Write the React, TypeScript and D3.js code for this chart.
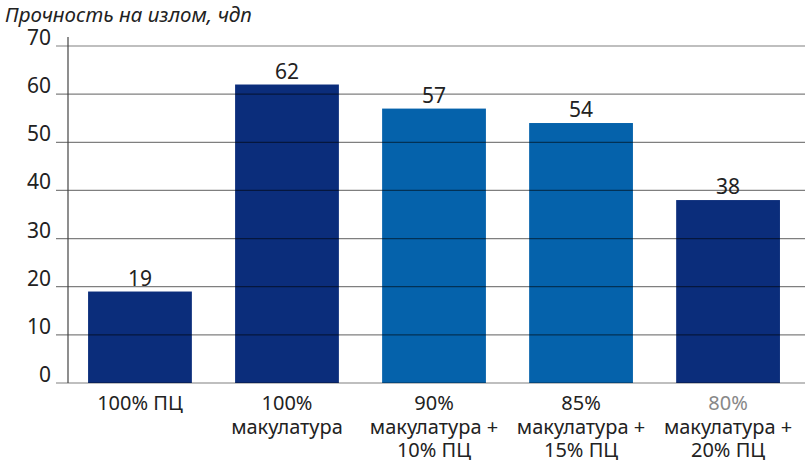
import * as d3 from "d3";

const categories = [
  ["100% ПЦ"],
  ["100%", "макулатура"],
  ["90%", "макулатура +", "10% ПЦ"],
  ["85%", "макулатура +", "15% ПЦ"],
  ["80%", "макулатура +", "20% ПЦ"],
];
const values = [19, 62, 57, 54, 38];
const barColors = ["#0b2d7b", "#0b2d7b", "#0562ab", "#0562ab", "#0b2d7b"];
const yTicks = [0, 10, 20, 30, 40, 50, 60, 70];
const title = "Прочность на излом, чдп";

export default function App() {
  const width = 805;
  const height = 470;
  const axisX = 68;
  const font = "'Noto Sans', sans-serif";

  const x = d3
    .scaleBand<number>()
    .domain(d3.range(values.length))
    .range([axisX, 804])
    .paddingInner(0.294)
    .paddingOuter(0.15)
    .align(0.455);
  const y = d3.scaleLinear([0, 70], [383, 46]);

  return (
    <svg
      width={width}
      height={height}
      style={{ position: "absolute", left: 0, top: 0, background: "#fff" }}
      fontFamily={font}
    >
      <text x={5} y={22} fontSize={20.5} fontStyle="italic" fill="#222">
        {title}
      </text>
      {values.map((v, i) => (
        <rect
          key={i}
          x={x(i)}
          y={y(v)}
          width={x.bandwidth()}
          height={y(0) - y(v)}
          fill={barColors[i]}
        />
      ))}
      <g>
        {yTicks.map((t) => (
          <g key={t}>
            <line
              x1={56}
              x2={width}
              y1={y(t)}
              y2={y(t)}
              stroke="#000"
              strokeOpacity={0.5}
              strokeWidth={1.2}
            />
            <text x={51} y={y(t) - 1} textAnchor="end" fontSize={21} fill="#222">
              {t}
            </text>
          </g>
        ))}
      </g>
      <line x1={axisX} x2={axisX} y1={37} y2={y(0)} stroke="#444" strokeWidth={1.2} />
      {values.map((v, i) => (
        <g key={i}>
          <text
            x={x(i)! + x.bandwidth() / 2}
            y={y(v) - 6}
            textAnchor="middle"
            fontSize={21}
            fill="#222"
          >
            {v}
          </text>
          {categories[i].map((line, j) => (
            <text
              key={j}
              x={x(i)! + x.bandwidth() / 2}
              y={410 + j * 23.5}
              textAnchor="middle"
              fontSize={20}
              fill={i === 4 && j === 0 ? "#888" : "#222"}
            >
              {line}
            </text>
          ))}
        </g>
      ))}
    </svg>
  );
}
